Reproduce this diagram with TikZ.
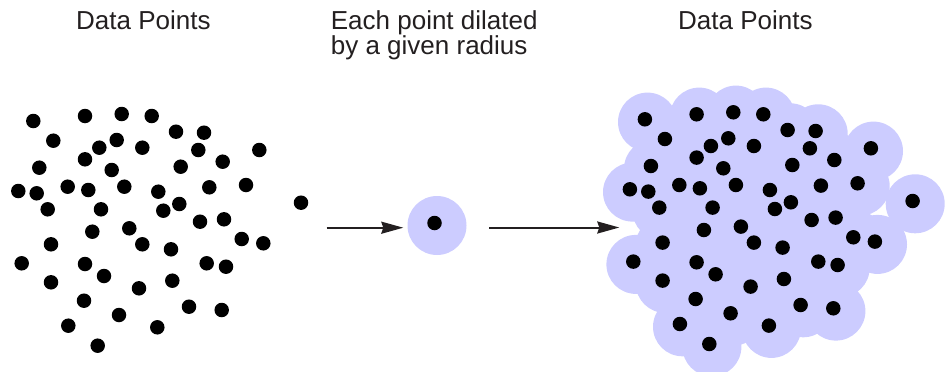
\documentclass[tikz,border=0pt]{standalone}
\usepackage{fontspec}
\setmainfont{Liberation Sans}
\usetikzlibrary{arrows.meta}
\definecolor{halocol}{RGB}{204,204,255}
\definecolor{inkcol}{RGB}{35,31,32}
% point positions, left cluster
\newcommand\datapts{33.3/121, 85/116, 121.7/114, 151.7/116, 176/131.7, 204/132.7,
  53.3/140.7, 99.3/147.7, 116.7/140, 142.3/147.7, 198.3/150, 259.3/150, 85/159.3,
  39.3/167.7, 111.7/170, 180.7/166.7, 222.7/161.7, 18.3/191, 36.7/193.3, 67.7/186.7,
  88.3/190, 124.3/186.7, 158.3/191.7, 179.3/204, 163.3/210.7, 209.3/187.3, 246/185,
  301/202.7, 47.7/209.3, 101/209.3, 200/221.7, 224/219.3, 92.3/231.7, 129.3/228.3,
  241.7/239, 263.3/243.3, 51/244.3, 142.3/244.3, 171/249.3, 21.7/263.3, 85/264,
  206.7/263.3, 226/266.7, 104/276, 51/282.3, 172.3/280.7, 139/288.3, 84/300.7,
  189/306.7, 221.7/310, 119/315, 68.3/325.7, 157.3/327.3, 97.7/345.7}
\begin{document}
\begin{tikzpicture}[x=1pt,y=-1pt,
  every node/.style={font=\fontsize{26}{25}\selectfont,text=inkcol,inner sep=0pt},
  dot/.style={circle,fill=black,minimum size=14.5pt,inner sep=0pt},
  halo/.style={circle,fill=halocol,minimum size=59pt,inner sep=0pt},
  arr/.style={-{Stealth[length=22pt,width=12pt,inset=2pt]},line width=2pt,draw=inkcol}]
\useasboundingbox (0,0) rectangle (951,372);
% Titles
\node[anchor=base west] (t1) at (76,30) {Data Points};
\node[anchor=base west,align=left] (t2) at (330.7,54.3) {Each point dilated\\by a given radius};
\node[anchor=base west] (t3) at (678,30) {Data Points};
% Data points
\foreach [count=\i] \x/\y in \datapts {\node[dot] (p\i) at (\x,\y) {};}
% Dilated point
\node[halo] (h0) at (437,225.5) {};
\node[dot] (d0) at (434.5,223) {};
\coordinate (a1s) at (326.7,227.7); \coordinate (a1e) at (403.3,227.7);
\coordinate (a2s) at (489.3,227.5); \coordinate (a2e) at (619.3,227.5);
\draw[arr] (a1s) -- (a1e);
% Dilated data points
\begin{scope}[shift={(611.6,-1.7)}]
  \foreach [count=\i] \x/\y in \datapts {\node[halo] (h\i) at (\x+2.6,\y+2.8) {};}
  \foreach [count=\i] \x/\y in \datapts {\node[dot] (q\i) at (\x,\y) {};}
\end{scope}
\draw[arr] (a2s) -- (a2e);
\end{tikzpicture}
\end{document}
